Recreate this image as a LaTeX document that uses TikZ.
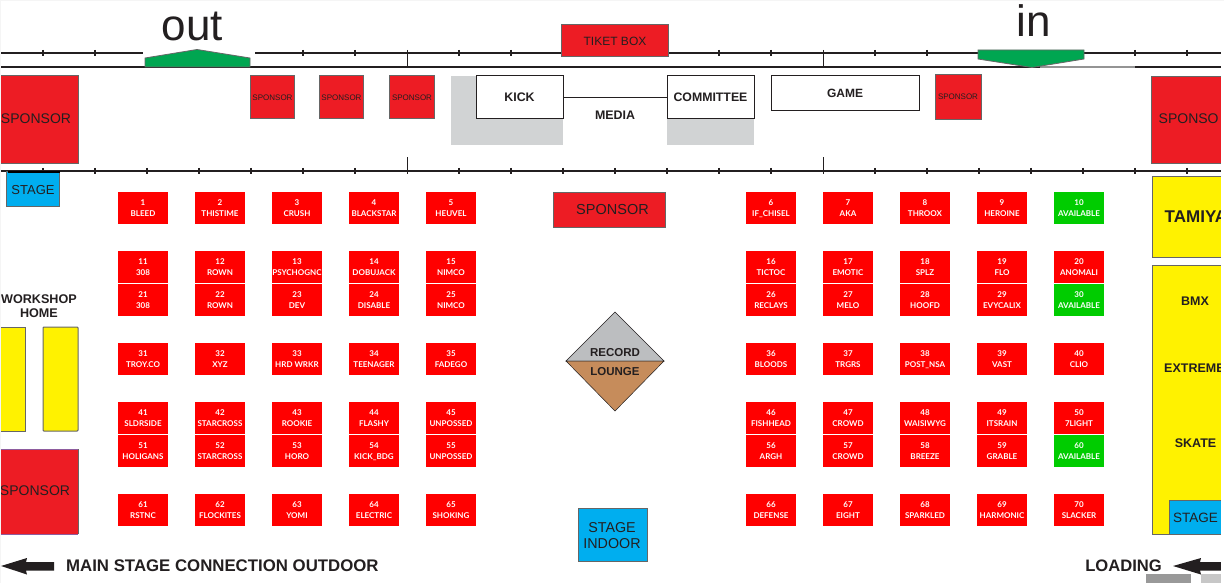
\documentclass[tikz,border=0pt]{standalone}
\usepackage{fontspec}
\setmainfont{Liberation Sans}
\newfontfamily\boothfont{Lato}
\definecolor{sponsorred}{HTML}{ED1C24}
\definecolor{boothred}{HTML}{FF0000}
\definecolor{boothgreen}{HTML}{00CC00}
\definecolor{gategreen}{HTML}{00A651}
\definecolor{stageblue}{HTML}{00AEEF}
\definecolor{zoneyellow}{HTML}{FFF200}
\definecolor{inkline}{HTML}{231F20}
\definecolor{edgegrey}{HTML}{666666}
\definecolor{shadegrey}{HTML}{D1D3D4}
\definecolor{recordgrey}{HTML}{BCBEC0}
\definecolor{loungebrown}{HTML}{C68C5B}
\definecolor{edgepurple}{HTML}{8E5C9E}
\tikzset{
  x=1pt,y=-1pt,
  wall/.style={draw=inkline,line width=1.3pt},
  tick/.style={draw=inkline,line width=1.1pt},
  bigtick/.style={draw=inkline,line width=1pt},
  sponsorbox/.style={draw=edgegrey,line width=1pt,fill=sponsorred},
  whitebox/.style={draw=inkline,line width=.9pt,fill=white},
  yellowbox/.style={draw=edgegrey,line width=1pt,fill=zoneyellow},
  bluebox/.style={draw=edgegrey,line width=1pt,fill=stageblue},
  labeltext/.style={text=inkline,inner sep=0pt,font=\fontsize{#1}{#1}\selectfont},
  boldtext/.style={text=inkline,inner sep=0pt,font=\fontsize{#1}{#1}\selectfont\bfseries},
}
\newcommand{\booth}[5][boothred]{%
  \node[fill=#1,minimum width=50pt,minimum height=32pt,inner sep=0pt,text=white,align=center,
    font=\boothfont\bfseries\fontsize{8}{11}\selectfont] (b#4) at (#2+25,#3+16) {#4\\\smash{#5}};}
\begin{document}
\begin{tikzpicture}
\useasboundingbox (0,0) rectangle (1224,583);
\fill[white] (0,0) rectangle (1224,583);
% walls
\coordinate (tl1) at (1,53); \coordinate (tl1e) at (143,53);
\coordinate (tl2) at (255,53); \coordinate (tl2e) at (1224,53);
\coordinate (ml1) at (1,67); \coordinate (ml1e) at (1224,67);
\coordinate (bl1) at (1,171); \coordinate (bl1e) at (1224,171);
\draw[wall] (tl1)--(tl1e);
\draw[wall] (tl2)--(tl2e);
\draw[wall] (ml1)--(ml1e);
\draw[draw=edgegrey!70,line width=1.3pt] (1040,67)--(1135,67);
\draw[wall] (bl1)--(bl1e);
\foreach \x in {43,95,303,355,459,511,615,667,719,771,875,927,1135,1187}
  \draw[tick] (\x,50)--(\x,56.5);
\foreach \x in {43,95,147,199,251,303,355,459,511,563,615,667,719,771,875,927,979,1031,1083,1135,1187}
  \draw[tick] (\x,168)--(\x,174);
\draw[bigtick] (407,50)--(407,67);
\draw[bigtick] (823,50)--(823,67);
\draw[bigtick] (407,157.5)--(407,174);
\draw[bigtick] (823,157.5)--(823,174);
% gates
\draw[draw=edgegrey,line width=.8pt,fill=gategreen] (145,58)--(197,49.5)--(250,58)--(250,67)--(145,67)--cycle;
\draw[draw=edgegrey,line width=.8pt,fill=gategreen] (978,50)--(1084,50)--(1084,59)--(1032,67.5)--(978,59)--cycle;
\node[labeltext=44] (out) at (192.5,26) {out};
\node[labeltext=44] (in) at (1034,21) {in};
% top boxes
\node[sponsorbox,minimum width=107pt,minimum height=32pt,inner sep=0pt] (ticket) at (615,41) {};
\node[labeltext=12] at (615,41) {TIKET BOX};
\node[sponsorbox,minimum width=78pt,minimum height=88pt,inner sep=0pt] (spL) at (39,119.5) {};
\node[labeltext=14] at (36,119) {SPONSOR};
\foreach \n/\x in {a/272.5,b/341.5,c/412}{
  \node[sponsorbox,minimum width=44.5pt,minimum height=43pt,inner sep=0pt] (s\n) at (\x,97.5) {};
  \node[labeltext=8] at (\x,97.5) {SPONSOR};
}
\node[sponsorbox,minimum width=46pt,minimum height=45pt,inner sep=0pt] (sd) at (958,97) {};
\node[labeltext=8] at (958,97) {SPONSOR};
\node[sponsorbox,minimum width=78pt,minimum height=87pt,inner sep=0pt,anchor=north west] (spR) at (1151,76) {};
\node[labeltext=14,anchor=west] at (1158.5,119) {SPONSO};
% media
\fill[shadegrey] (451,76) rectangle (563,145);
\fill[shadegrey] (667,119) rectangle (754,145);
\node[whitebox,minimum width=87pt,minimum height=43.5pt,inner sep=0pt] (kick) at (520,97) {};
\node[whitebox,minimum width=87pt,minimum height=43.5pt,inner sep=0pt] (comm) at (710.5,97) {};
\node[whitebox,minimum width=148pt,minimum height=35pt,inner sep=0pt] (game) at (845,93) {};
\draw[draw=inkline,line width=.9pt] (kick.east)--(comm.west);
\node[boldtext=12.4] at (519.5,97.5) {KICK};
\node[boldtext=12.3] at (710.5,97.5) {COMMITTEE};
\node[boldtext=12] at (845,93) {GAME};
\node[boldtext=12.4] at (615,115) {MEDIA};
% stages left
\node[bluebox,minimum width=53pt,minimum height=34pt,inner sep=0pt] (stageA) at (33,189) {};
\draw[draw=black,line width=1.4pt] (8,172)--(60,172);
\node[labeltext=13] at (33,190) {STAGE};
\node[sponsorbox,minimum width=112pt,minimum height=35pt,inner sep=0pt] (spC) at (609.5,209.5) {};
\node[labeltext=14.5] at (612.5,210) {SPONSOR};
% workshop
\node[boldtext=12.6,align=center] (ws) at (39,306.5) {WORKSHOP\\[1.4pt]HOME};
\draw[yellowbox] (1,327)--(25.5,327)--(25.5,431)--(1,431);
\node[yellowbox,minimum width=35pt,minimum height=104pt,inner sep=0pt,rounded corners=.8pt] (wsB) at (60.5,379) {};
\fill[sponsorred] (1,449) rectangle (78,534);
\draw[draw=edgegrey,line width=1pt] (78,449)--(78,534);
\draw[draw=edgepurple,line width=1pt] (1,449)--(78,449) (1,534)--(78,534);
\node[labeltext=14] at (35,491) {SPONSOR};
% right zones
\draw[yellowbox] (1224,176.5)--(1152.5,176.5)--(1152.5,257)--(1224,257);
\node[boldtext=17,anchor=west] at (1164.5,217) {TAMIYA};
\draw[yellowbox] (1224,265)--(1152.5,265)--(1152.5,534.5)--(1224,534.5);
\node[boldtext=12.5] at (1195,301) {BMX};
\node[boldtext=12.5,anchor=west] at (1164,368) {EXTREME};
\node[boldtext=12.5] at (1195.5,443) {SKATE};
\draw[bluebox] (1224,500)--(1169,500)--(1169,534.5)--(1224,534.5);
\node[labeltext=13.5] at (1195.5,517.5) {STAGE};
% diamond
\draw[draw=inkline,line width=.5pt,fill=recordgrey] (566,361)--(615,312)--(664,361)--cycle;
\draw[draw=inkline,line width=.5pt,fill=loungebrown] (566,361)--(664,361)--(615,411)--cycle;
\node[boldtext=11.5] (rec) at (615,353) {RECORD};
\node[boldtext=11.5] (lou) at (615,371.5) {LOUNGE};
\node[bluebox,minimum width=69pt,minimum height=53pt,inner sep=0pt] (stageI) at (613,535) {};
\node[labeltext=14.3,align=center] at (612,535.5) {STAGE\\[1.5pt]INDOOR};
% bottom
\node[boldtext=16.8,anchor=west] (main) at (66,566) {MAIN STAGE CONNECTION OUTDOOR};
\node[boldtext=16.6,anchor=east] (load) at (1162,566) {LOADING};
\fill[inkline] (1,566)--(27,558)--(26,562)--(54,562)--(54,570.5)--(26,570.5)--(27,574.5)--cycle;
\fill[inkline] (1173,566)--(1201,558)--(1200,562)--(1224,562)--(1224,570.5)--(1200,570.5)--(1201,574.5)--cycle;
\fill[black!40] (1146,574) rectangle (1191,583);
\fill[black!22] (1201,574) rectangle (1224,583);
% booths
\booth{118}{192}{1}{BLEED}
\booth{195}{192}{2}{THISTIME}
\booth{272}{192}{3}{CRUSH}
\booth{349}{192}{4}{BLACKSTAR}
\booth{426}{192}{5}{HEUVEL}
\booth{746}{192}{6}{IF\_CHISEL}
\booth{823}{192}{7}{AKA}
\booth{900}{192}{8}{THROOX}
\booth{977}{192}{9}{HEROINE}
\booth[boothgreen]{1054}{192}{10}{AVAILABLE}
\booth{118}{251}{11}{308}
\booth{195}{251}{12}{ROWN}
\booth{272}{251}{13}{PSYCHOGNC}
\booth{349}{251}{14}{DOBUJACK}
\booth{426}{251}{15}{NIMCO}
\booth{746}{251}{16}{TICTOC}
\booth{823}{251}{17}{EMOTIC}
\booth{900}{251}{18}{SPLZ}
\booth{977}{251}{19}{FLO}
\booth{1054}{251}{20}{ANOMALI}
\booth{118}{284}{21}{308}
\booth{195}{284}{22}{ROWN}
\booth{272}{284}{23}{DEV}
\booth{349}{284}{24}{DISABLE}
\booth{426}{284}{25}{NIMCO}
\booth{746}{284}{26}{RECLAYS}
\booth{823}{284}{27}{MELO}
\booth{900}{284}{28}{HOOFD}
\booth{977}{284}{29}{EVYCALIX}
\booth[boothgreen]{1054}{284}{30}{AVAILABLE}
\booth{118}{343}{31}{TROY.CO}
\booth{195}{343}{32}{XYZ}
\booth{272}{343}{33}{HRD WRKR}
\booth{349}{343}{34}{TEENAGER}
\booth{426}{343}{35}{FADEGO}
\booth{746}{343}{36}{BLOODS}
\booth{823}{343}{37}{TRGRS}
\booth{900}{343}{38}{POST\_NSA}
\booth{977}{343}{39}{VAST}
\booth{1054}{343}{40}{CLIO}
\booth{118}{402}{41}{SLDRSIDE}
\booth{195}{402}{42}{STARCROSS}
\booth{272}{402}{43}{ROOKIE}
\booth{349}{402}{44}{FLASHY}
\booth{426}{402}{45}{UNPOSSED}
\booth{746}{402}{46}{FISHHEAD}
\booth{823}{402}{47}{CROWD}
\booth{900}{402}{48}{WAISIWYG}
\booth{977}{402}{49}{ITSRAIN}
\booth{1054}{402}{50}{7LIGHT}
\booth{118}{435}{51}{HOLIGANS}
\booth{195}{435}{52}{STARCROSS}
\booth{272}{435}{53}{HORO}
\booth{349}{435}{54}{KICK\_BDG}
\booth{426}{435}{55}{UNPOSSED}
\booth{746}{435}{56}{ARGH}
\booth{823}{435}{57}{CROWD}
\booth{900}{435}{58}{BREEZE}
\booth{977}{435}{59}{GRABLE}
\booth[boothgreen]{1054}{435}{60}{AVAILABLE}
\booth{118}{494}{61}{RSTNC}
\booth{195}{494}{62}{FLOCKITES}
\booth{272}{494}{63}{YOMI}
\booth{349}{494}{64}{ELECTRIC}
\booth{426}{494}{65}{SHOKING}
\booth{746}{494}{66}{DEFENSE}
\booth{823}{494}{67}{EIGHT}
\booth{900}{494}{68}{SPARKLED}
\booth{977}{494}{69}{HARMONIC}
\booth{1054}{494}{70}{SLACKER}
% picture edges: the reference stops short of the page on the right and left
\fill[white] (1221,0) rectangle (1224,583);
\fill[black!4] (0,0) rectangle (1224,1.5);
\fill[black!4] (0,0) rectangle (1,583);
\end{tikzpicture}
\end{document}
